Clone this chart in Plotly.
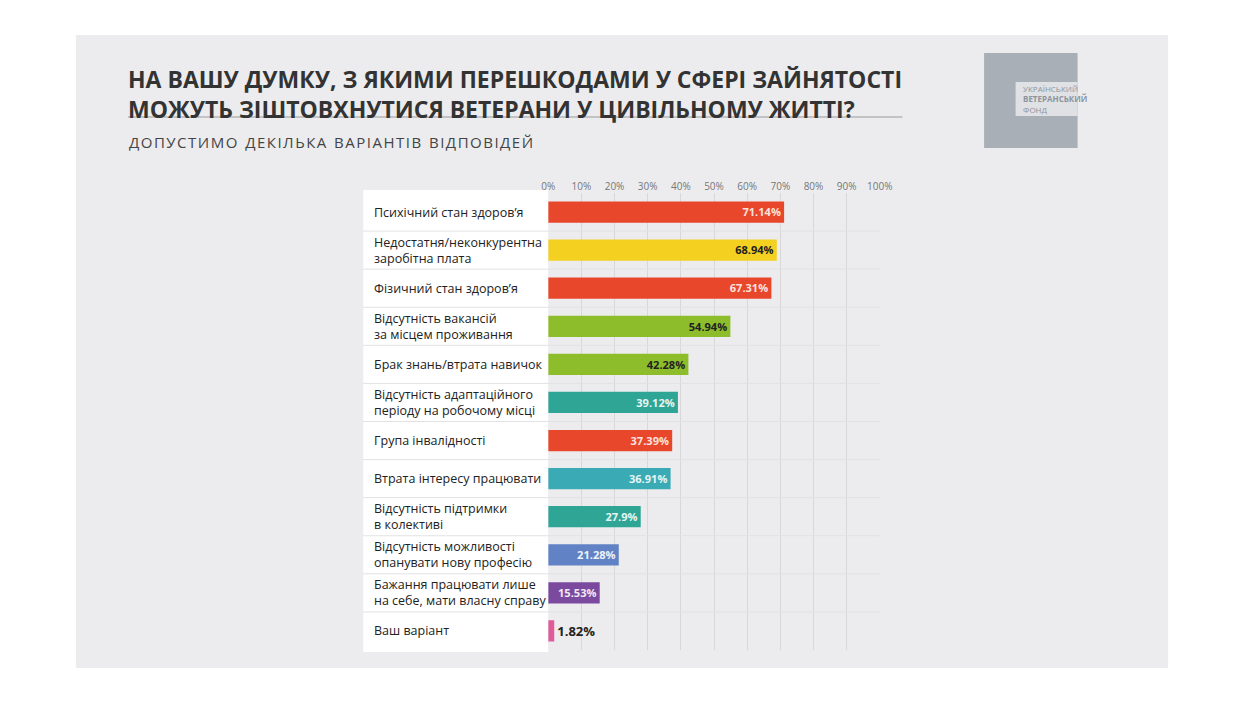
import plotly.graph_objects as go

categories = [
    "Психічний стан здоров’я",
    "Недостатня/неконкурентна<br>заробітна плата",
    "Фізичний стан здоров’я",
    "Відсутність вакансій<br>за місцем проживання",
    "Брак знань/втрата навичок",
    "Відсутність адаптаційного<br>періоду на робочому місці",
    "Група інвалідності",
    "Втрата інтересу працювати",
    "Відсутність підтримки<br>в колективі",
    "Відсутність можливості<br>опанувати нову професію",
    "Бажання працювати лише<br>на себе, мати власну справу",
    "Ваш варіант",
]
values = [71.14, 68.94, 67.31, 54.94, 42.28, 39.12, 37.39, 36.91, 27.9, 21.28, 15.53, 1.82]
value_labels = ["71.14%", "68.94%", "67.31%", "54.94%", "42.28%", "39.12%", "37.39%",
                "36.91%", "27.9%", "21.28%", "15.53%", "1.82%"]
tick_vals = [0, 10, 20, 30, 40, 50, 60, 70, 80, 90, 100]
tick_text = ["0%", "10%", "20%", "30%", "40%", "50%", "60%", "70%", "80%", "90%", "100%"]

colors = ["#e9472c", "#f4d020", "#e9472c", "#8dbd2a", "#8dbd2a", "#2fa596", "#e9472c",
          "#3aaab5", "#2fa596", "#6183c6", "#7b4a9e", "#df5b9a"]
text_colors = ["#fbe2dc", "#222", "#fbe2dc", "#222", "#222", "#e6f5f3", "#fbe2dc",
               "#e6f5f3", "#e6f5f3", "#eef2fa", "#f0e8f5", "#222"]

W, H = 1250, 704
def px_x(x): return x / W
def px_y(y): return 1 - y / H

fig = go.Figure()
fig.add_trace(go.Bar(
    y=list(range(len(values))), x=values, orientation="h",
    marker=dict(color=colors, line=dict(width=0)),
    width=0.56,
    text=["<b>" + t + "</b>" for t in value_labels],
    textposition=["inside"] * 11 + ["outside"],
    insidetextanchor="end",
    textfont=dict(color=text_colors, size=13, family="Open Sans"),
    cliponaxis=False,
))

shapes = [
    # card background
    dict(type="rect", xref="paper", yref="paper", x0=px_x(70), x1=px_x(1180),
         y0=px_y(668), y1=px_y(35), fillcolor="#ececee", line=dict(width=0), layer="below"),
    # label panel
    dict(type="rect", xref="paper", yref="paper", x0=px_x(362), x1=px_x(550),
         y0=px_y(652), y1=px_y(190), fillcolor="white", line=dict(width=0), layer="below"),
    # title rule
    dict(type="line", xref="paper", yref="paper", x0=px_x(123), x1=px_x(910),
         y0=px_y(117), y1=px_y(117), line=dict(color="#9a9a9a", width=1)),
    # logo
    dict(type="rect", xref="paper", yref="paper", x0=px_x(993), x1=px_x(1088),
         y0=px_y(148), y1=px_y(53), fillcolor="#a9afb6", line=dict(width=0)),
    dict(type="rect", xref="paper", yref="paper", x0=px_x(1025), x1=px_x(1088),
         y0=px_y(116), y1=px_y(82), fillcolor="#dfe1e4", line=dict(width=0)),
]
# row separators
for i in range(1, len(values)):
    yy = 193 + i * (457 / 12)
    shapes.append(dict(type="line", xref="paper", yref="paper", x0=px_x(362), x1=px_x(887),
                       y0=px_y(yy), y1=px_y(yy), line=dict(color="#e2e2e2", width=1)))

subtitle = "ДОПУСТИМО ДЕКІЛЬКА ВАРІАНТІВ ВІДПОВІДЕЙ"
subtitle = "  ".join("\u200a".join(w) for w in subtitle.split(" "))

annotations = [
    dict(text="<b>НА ВАШУ ДУМКУ, З ЯКИМИ ПЕРЕШКОДАМИ У СФЕРІ ЗАЙНЯТОСТІ<br>МОЖУТЬ ЗІШТОВХНУТИСЯ ВЕТЕРАНИ У ЦИВІЛЬНОМУ ЖИТТІ?</b>",
         x=px_x(121), y=px_y(61), xanchor="left", yanchor="top", align="left",
         font=dict(size=23, color="#333", family="Open Sans")),
    dict(text=subtitle, x=px_x(122), y=px_y(142), xanchor="left", yanchor="middle",
         font=dict(size=15, color="#444", family="Open Sans")),
    dict(text="УКРАЇНСЬКИЙ<br><b>ВЕТЕРАНСЬКИЙ</b><br>ФОНД", x=px_x(1030), y=px_y(99),
         xanchor="left", yanchor="middle", align="left",
         font=dict(size=8, color="#8d949c", family="Open Sans")),
]
for i, c in enumerate(categories):
    annotations.append(dict(text=c, xref="paper", yref="y", x=px_x(371), y=i,
                            xanchor="left", yanchor="middle", align="left", showarrow=False,
                            font=dict(size=12.5, color="#222", family="Open Sans")))

fig.update_layout(
    width=W, height=H, margin=dict(l=0, r=0, t=0, b=0),
    paper_bgcolor="white", plot_bgcolor="rgba(0,0,0,0)",
    showlegend=False, shapes=shapes, annotations=annotations,
    xaxis=dict(domain=[px_x(550), px_x(887)], range=[0, 100], tickvals=tick_vals,
               ticktext=tick_text, side="top", showgrid=True, gridcolor="#d8d8d8",
               zeroline=False, tickfont=dict(size=10, color="#777", family="Open Sans"),
               showline=False),
    yaxis=dict(domain=[px_y(650), px_y(193)], range=[11.5, -0.5], showticklabels=False,
               showgrid=False, zeroline=False),
)
for a in fig.layout.annotations:
    a.showarrow = False
    if a.xref is None:
        a.xref = "paper"
        a.yref = "paper"
fig.write_html("out.html", config={"displayModeBar": False},
               post_script="document.body.style.margin='0';document.body.style.overflow='hidden';")
